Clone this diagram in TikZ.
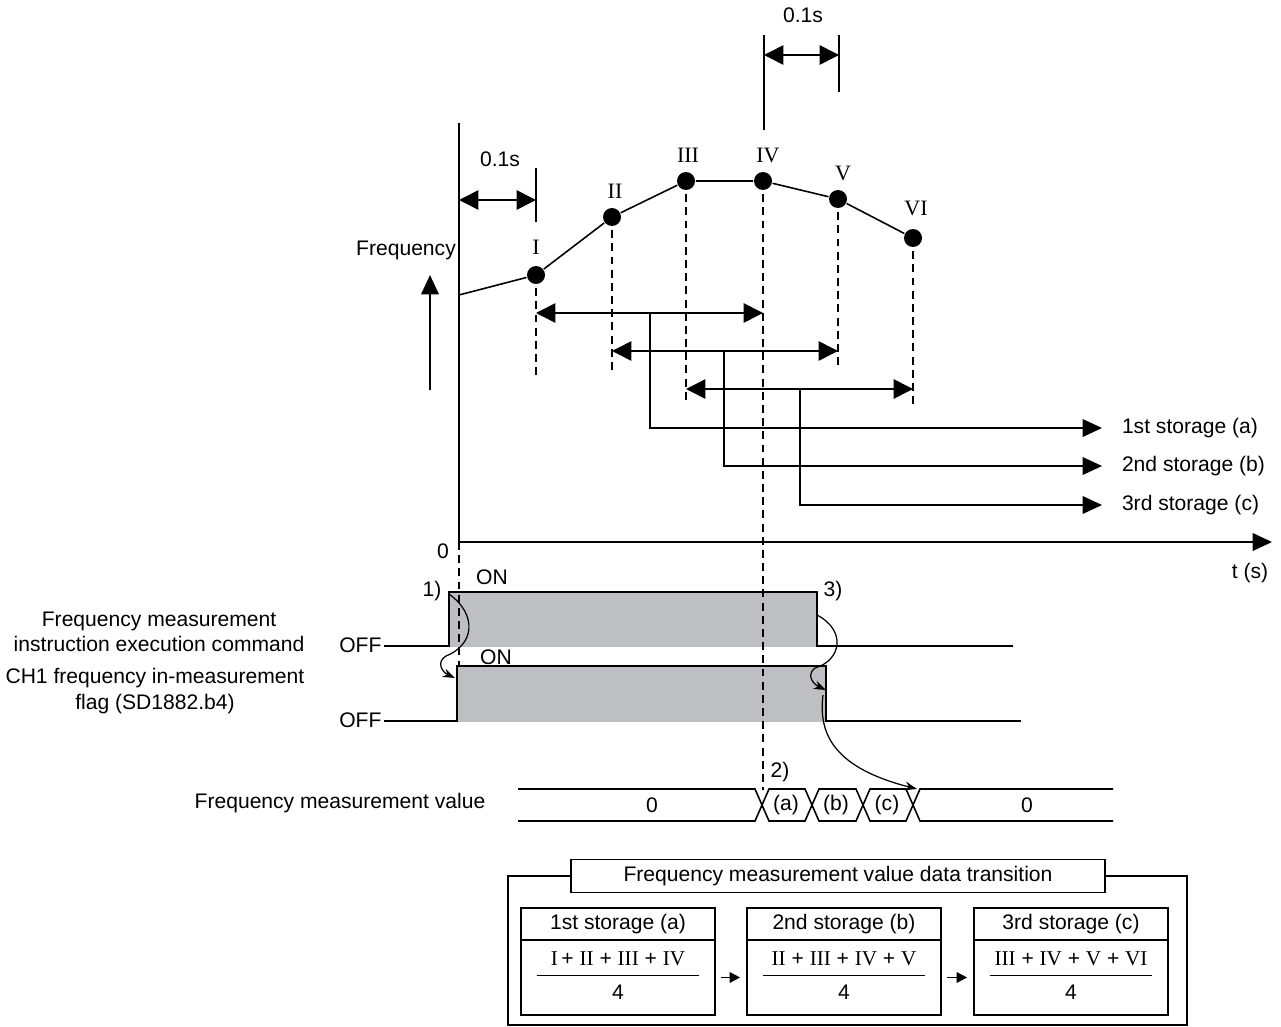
\documentclass[tikz,border=0pt]{standalone}
\usepackage{fontspec}
\setmainfont{Liberation Sans}
\newfontfamily\romfont{Liberation Serif}
\usetikzlibrary{arrows.meta,positioning,calc}
\definecolor{ongray}{RGB}{190,191,195}
\newcommand{\rn}[1]{{\romfont #1}}
\newcommand{\avg}[1]{\begin{tabular}{@{}c@{}}\makebox[3.26cm]{#1}\\[1pt]\hline\rule{0pt}{14pt}4\end{tabular}}

\begin{document}
\begin{tikzpicture}[
    x=0.02cm, y=-0.02cm,
    font=\fontsize{12}{14.4}\selectfont,
    line width=0.9pt,
    dot/.style={circle, fill=black, inner sep=0pt, minimum size=0.36cm},
    rom/.style={font=\romfont\fontsize{12.5}{15}\selectfont},
    guide/.style={dash pattern=on 4.5pt off 3pt},
    span/.style={{Triangle[length=11pt,width=11pt]}-{Triangle[length=11pt,width=11pt]}},
    feed/.style={-{Triangle[length=11pt,width=10pt]}},
    wave/.style={line width=1.5pt},
    note/.style={-{Stealth[length=7pt,width=5pt]}, line width=0.7pt},
    hop/.style={-{Triangle[length=6pt,width=6pt]}, line width=1pt, shorten <=0.1cm, shorten >=0.12cm},
    store/.style={anchor=west, inner xsep=0pt, outer xsep=0.4cm},
    cellhead/.style={draw, minimum width=3.88cm, minimum height=0.64cm, line width=1pt},
    cellbody/.style={draw, minimum width=3.88cm, minimum height=1.5cm, line width=1pt, inner sep=0pt}
]
\useasboundingbox (0,0) rectangle (1281,1027);

% signal levels
\fill[ongray] (449,592) rectangle (817,647);
\fill[ongray] (457,666) rectangle (826,722);

% axes
\coordinate (o) at (459,542);
\draw (459,123) -- (o);
\draw[feed] (o) -- (1272,542);
\node (zero) at (443,551) {0};
\node (ts) at (1250,573) {t (s)};
\node (freq) at (406,250) {Frequency};
\draw[feed] (430,390) -- (430,275);

% samples
\node[dot] (p1) at (536,275) {};
\node[dot] (p2) at (612,217) {};
\node[dot] (p3) at (686,181) {};
\node[dot] (p4) at (763,181) {};
\node[dot] (p5) at (838,199) {};
\node[dot] (p6) at (913,238) {};
\draw (459,295) -- (p1) -- (p2) -- (p3) -- (p4) -- (p5) -- (p6);
\node[rom] (n1) at (536,247) {I};
\node[rom] (n2) at (615,191) {II};
\node[rom] (n3) at (688,155) {III};
\node[rom] (n4) at (768,155) {IV};
\node[rom] (n5) at (843,173) {V};
\node[rom] (n6) at (916,208) {VI};

\draw[guide] (p1.center) -- ++(0,105);
\draw[guide] (p2.center) -- ++(0,154);
\draw[guide] (p3.center) -- ++(0,221);
\draw[guide] (p4.center) -- ++(0,609);
\draw[guide] (p5.center) -- ++(0,169);
\draw[guide] (p6.center) -- ++(0,169);
\draw[guide] (o) -- (459,665);

% 0.1s intervals
\draw (536,168) -- (536,222);
\draw[span] (459,200) -- (536,200);
\node (d1) at (500,159) {0.1s};
\draw (764,35) -- (764,130);
\draw (839,35) -- (839,92);
\draw[span] (764,55) -- (839,55);
\node (d2) at (803,15) {0.1s};

% moving averages
\coordinate (ra) at (0,313);
\coordinate (rb) at (0,351);
\coordinate (rc) at (0,389);
\draw[span] (p1 |- ra) -- (p4 |- ra);
\draw[span] (p2 |- rb) -- (p5 |- rb);
\draw[span] (p3 |- rc) -- (p6 |- rc);
\coordinate (b1) at (650,313);
\coordinate (b2) at (724,351);
\coordinate (b3) at (800,389);
\node[store] (s1) at (1102,428) {1st storage (a)};
\node[store] (s2) at (1102,466) {2nd storage (b)};
\node[store] (s3) at (1102,505) {3rd storage (c)};
\draw[feed] (b1) |- (s1);
\draw[feed] (b2) |- (s2);
\draw[feed] (b3) |- (s3);

% timing chart
\draw[wave] (384,646) -- (449,646) -- (449,592) -- (817,592) -- (817,646) -- (1013,646);
\draw[wave] (384,721) -- (457,721) -- (457,666) -- (826,666) -- (826,721) -- (1021,721);
\node[anchor=east, inner xsep=1pt] (off1) at (384,645) {OFF};
\node[anchor=east, inner xsep=1pt] (off2) at (384,720) {OFF};
\node (on1) at (492,577) {ON};
\node (on2) at (496,657) {ON};
\node (k1) at (432,591) {1)};
\node (k3) at (833,591) {3)};
\node (k2) at (780,772) {2)};
\node[anchor=east, align=center] (cmd) at (311,632) {Frequency measurement\\instruction execution command};
\node[anchor=east, align=center] (flag) at (311,691) {CH1 frequency in-measurement\\flag (SD1882.b4)};
\draw[note] (449,594) .. controls (478,615) and (474,645) .. (446,656) .. controls (436,662) and (442,672) .. (455,678);
\draw[note] (817,615) .. controls (846,630) and (842,660) .. (815,668) .. controls (806,675) and (813,684) .. (826,690);
\draw[note] (823,695) .. controls (818,735) and (835,768) .. (917,789);

% value data
\node (val) at (340,803) {Frequency measurement value};
\draw (518,789) -- (755,789) -- (769,821) -- (805,821) -- (819,789) -- (856,789) -- (870,821) -- (906,821) -- (920,789) -- (1113,789);
\draw (518,821) -- (755,821) -- (769,789) -- (805,789) -- (819,821) -- (856,821) -- (870,789) -- (906,789) -- (920,821) -- (1113,821);
\node (v0) at (652,805) {0};
\node (va) at (786,805) {(a)};
\node (vb) at (836,805) {(b)};
\node (vc) at (887,805) {(c)};
\node (v4) at (1027,805) {0};

% data transition
\draw[line width=1pt] (508,876) rectangle (1187,1025);
\node[draw, fill=white, minimum width=10.68cm, minimum height=0.66cm, line width=1pt] (title) at (838,876) {Frequency measurement value data transition};
\node[cellhead] (h1) at (618,924) {1st storage (a)};
\node[cellhead] (h2) at (844,924) {2nd storage (b)};
\node[cellhead] (h3) at (1071,924) {3rd storage (c)};
\node[cellbody, below=-1pt of h1] (c1) {\avg{\rn{I}\,+\ \rn{II} + \rn{III} + \rn{IV}}};
\node[cellbody, below=-1pt of h2] (c2) {\avg{\rn{II} + \rn{III} + \rn{IV} + \rn{V}}};
\node[cellbody, below=-1pt of h3] (c3) {\avg{\rn{III} + \rn{IV} + \rn{V} + \rn{VI}}};
\draw[hop] (c1) -- (c2);
\draw[hop] (c2) -- (c3);
\end{tikzpicture}
\end{document}
